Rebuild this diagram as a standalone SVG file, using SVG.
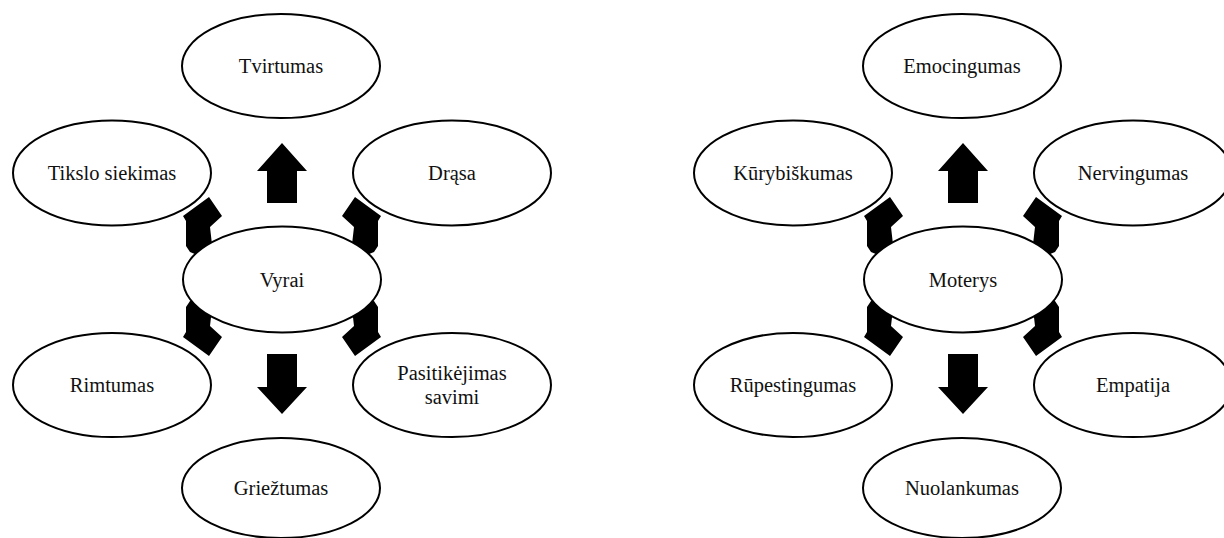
<svg xmlns="http://www.w3.org/2000/svg" width="1224" height="538" viewBox="0 0 1224 538">
  <style>
    .node ellipse { fill: #ffffff; stroke: #000000; stroke-width: 2; }
    .node text { font-family: "Liberation Serif", "Times New Roman", serif; font-size: 20.5px; fill: #111111; text-anchor: middle; }
    .arrow { fill: #000000; stroke: none; }
  </style>
  <defs>
    <!-- block arrows around one cluster, centred on x=282 -->
    <g id="arrow-set">
      <polygon class="arrow" points="282,143 307,171 297,171 297,203 267,203 267,171 257,171"/>
      <polygon class="arrow" points="267,354 297,354 297,387 307,387 282,414 257,387 267,387"/>
      <!-- diagonal arrows; their tails run under the centre ellipse -->
      <polygon class="arrow" points="209,197 222,216 210,227 214,262 190,252 186,246 186,221 183,216"/>
      <polygon class="arrow" points="355,197 342,216 354,227 350,262 374,252 378,246 378,221 381,216"/>
      <polygon class="arrow" points="209,356 222,337 210,326 214,291 190,301 186,307 186,332 183,337"/>
      <polygon class="arrow" points="355,356 342,337 354,326 350,291 374,301 378,307 378,332 381,337"/>
    </g>
  </defs>

  <g id="connectors">
    <use href="#arrow-set"/>
    <use href="#arrow-set" transform="translate(681,0)"/>
  </g>

  <!-- men cluster -->
  <g id="node-tvirtumas" class="node">
    <ellipse cx="281" cy="66" rx="99" ry="52"/>
    <text x="281" y="73">Tvirtumas</text>
  </g>
  <g id="node-tikslo-siekimas" class="node">
    <ellipse cx="112" cy="173" rx="99" ry="52.5"/>
    <text x="112" y="180">Tikslo siekimas</text>
  </g>
  <g id="node-drasa" class="node">
    <ellipse cx="452" cy="173" rx="99" ry="52.5"/>
    <text x="452" y="180">Drąsa</text>
  </g>
  <g id="node-vyrai" class="node">
    <ellipse cx="282" cy="279.5" rx="99" ry="53"/>
    <text x="282" y="287">Vyrai</text>
  </g>
  <g id="node-rimtumas" class="node">
    <ellipse cx="112" cy="385" rx="99" ry="52"/>
    <text x="112" y="392">Rimtumas</text>
  </g>
  <g id="node-pasitikejimas" class="node">
    <ellipse cx="452" cy="385" rx="99" ry="52"/>
    <text x="452" y="380">Pasitikėjimas</text>
    <text x="452" y="404">savimi</text>
  </g>
  <g id="node-grieztumas" class="node">
    <ellipse cx="281" cy="488" rx="99" ry="50"/>
    <text x="281" y="495">Griežtumas</text>
  </g>

  <!-- women cluster -->
  <g id="node-emocingumas" class="node">
    <ellipse cx="962" cy="66" rx="99" ry="52"/>
    <text x="962" y="73">Emocingumas</text>
  </g>
  <g id="node-kurybiskumas" class="node">
    <ellipse cx="793" cy="173" rx="99" ry="52.5"/>
    <text x="793" y="180">Kūrybiškumas</text>
  </g>
  <g id="node-nervingumas" class="node">
    <ellipse cx="1133" cy="173" rx="99" ry="52.5"/>
    <text x="1133" y="180">Nervingumas</text>
  </g>
  <g id="node-moterys" class="node">
    <ellipse cx="963" cy="279.5" rx="99" ry="53"/>
    <text x="963" y="287">Moterys</text>
  </g>
  <g id="node-rupestingumas" class="node">
    <ellipse cx="793" cy="385" rx="99" ry="52"/>
    <text x="793" y="392">Rūpestingumas</text>
  </g>
  <g id="node-empatija" class="node">
    <ellipse cx="1133" cy="385" rx="99" ry="52"/>
    <text x="1133" y="392">Empatija</text>
  </g>
  <g id="node-nuolankumas" class="node">
    <ellipse cx="962" cy="488" rx="99" ry="50"/>
    <text x="962" y="495">Nuolankumas</text>
  </g>
</svg>
